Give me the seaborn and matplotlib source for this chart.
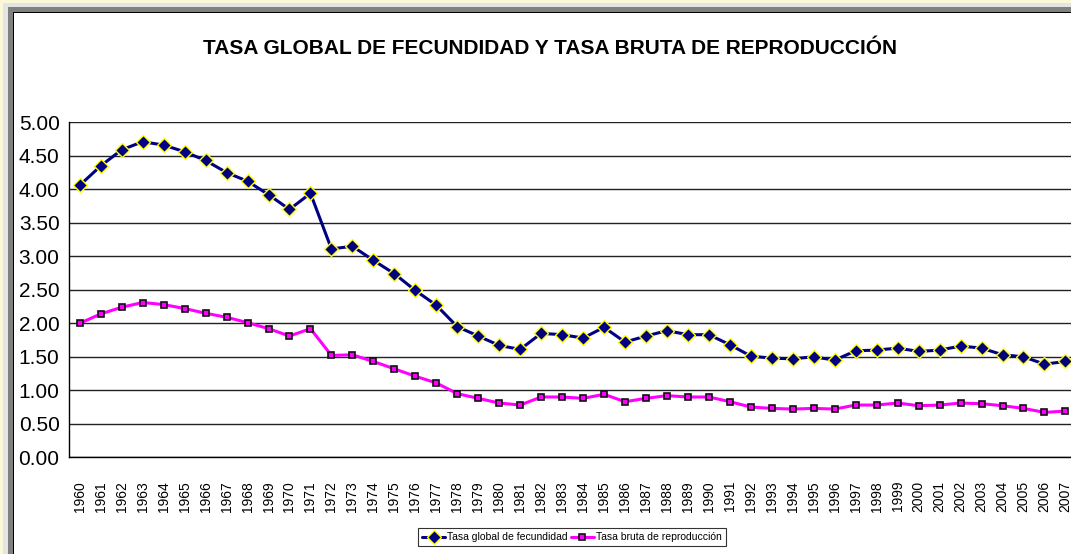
import matplotlib
matplotlib.use('Agg')
import matplotlib.pyplot as plt
from matplotlib.patches import Rectangle
import pandas as pd
import numpy as np
import seaborn as sns

sns.set_style('white')
plt.rcParams['font.family'] = ['Liberation Sans Narrow', 'Liberation Sans', 'DejaVu Sans']
plt.rcParams['text.color'] = 'black'
plt.rcParams['xtick.color'] = 'black'
plt.rcParams['ytick.color'] = 'black'

years = list(range(1960, 2008))
tgf = [4.06, 4.35, 4.59, 4.71, 4.66, 4.56, 4.43, 4.25, 4.12, 3.92,
       3.70, 3.94, 3.11, 3.15, 2.94, 2.74, 2.49, 2.27, 1.95, 1.81,
       1.67, 1.61, 1.85, 1.83, 1.78, 1.94, 1.72, 1.81, 1.89, 1.83,
       1.83, 1.68, 1.51, 1.48, 1.47, 1.50, 1.45, 1.59, 1.60, 1.63,
       1.58, 1.60, 1.66, 1.63, 1.53, 1.50, 1.39, 1.43]
tbr = [2.00, 2.14, 2.24, 2.31, 2.28, 2.22, 2.15, 2.09, 2.01, 1.92,
       1.81, 1.92, 1.52, 1.53, 1.43, 1.32, 1.21, 1.11, 0.95, 0.88,
       0.81, 0.78, 0.90, 0.90, 0.88, 0.94, 0.83, 0.88, 0.92, 0.90,
       0.90, 0.83, 0.75, 0.73, 0.72, 0.73, 0.72, 0.78, 0.78, 0.81,
       0.77, 0.78, 0.81, 0.80, 0.77, 0.73, 0.67, 0.69]
label_tgf = 'Tasa global de fecundidad'
label_tbr = 'Tasa bruta de reproducción'
title = 'TASA GLOBAL DE FECUNDIDAD Y TASA BRUTA DE REPRODUCCIÓN'

df = pd.DataFrame({'year': years, 'tgf': tgf, 'tbr': tbr})

W, H = 1071, 554
fig = plt.figure(figsize=(W / 100, H / 100), dpi=100)
fig.patch.set_facecolor('#fbf8d8')

# window frame
def px_rect(x0, y0, x1, y1, color):
    fig.patches.append(Rectangle((x0 / W, 1 - y1 / H), (x1 - x0) / W, (y1 - y0) / H,
                                 transform=fig.transFigure, facecolor=color,
                                 edgecolor='none', zorder=-10))

px_rect(3, 3, W + 5, H + 5, '#e4e4e4')
px_rect(8, 7, W + 5, H + 5, '#808080')
px_rect(13, 12, W + 5, H + 5, '#000000')
px_rect(14, 13, W + 5, H + 5, '#ffffff')

ax = fig.add_axes([69.3 / W, (H - 457.3) / H, 1006.6 / W, 335 / H])
ax.set_facecolor('white')

sns.lineplot(data=df, x='year', y='tgf', ax=ax, color='#000080', lw=2.2,
             marker='D', markersize=7, markerfacecolor='#000080',
             markeredgecolor='#ffff00', markeredgewidth=1.0, label=label_tgf,
             legend=False, zorder=4)
sns.lineplot(data=df, x='year', y='tbr', ax=ax, color='#ff00ff', lw=2.2,
             marker='s', markersize=5, markerfacecolor='#ff00ff',
             markeredgecolor='#111111', markeredgewidth=1.2, label=label_tbr,
             legend=False, zorder=3)

ax.set_xlim(years[0] - 0.5, years[-1] + 0.5)
ax.set_ylim(0, 5)
ax.set_yticks(np.arange(0, 5.01, 0.5))
ax.set_yticklabels([f'{v:.2f}' for v in np.arange(0, 5.01, 0.5)], fontsize=15)
ax.set_xticks(years)
ax.set_xticklabels([str(y) for y in years], rotation=90, fontsize=10)
ax.set_xticks(np.arange(years[0] - 0.5, years[-1] + 1), minor=True)
ax.tick_params(axis='x', which='major', length=0, pad=17)
ax.tick_params(axis='x', which='minor', length=5, width=0.8, color='black', direction='out')
ax.tick_params(axis='y', length=5, width=0.8, color='black', direction='out', pad=2)
ax.yaxis.grid(True, color='#222222', lw=1.0)
ax.set_axisbelow(True)
for s in ['top', 'right']:
    ax.spines[s].set_visible(False)
for s in ['left', 'bottom']:
    ax.spines[s].set_color('black')
    ax.spines[s].set_linewidth(1.0)
ax.set_xlabel('')
ax.set_ylabel('')

fig.text(550 / W, 1 - 48 / H, title, ha='center', va='center',
         fontsize=15, fontweight='heavy')

handles, labels = ax.get_legend_handles_labels()
leg = fig.legend(handles, labels, loc='upper center', bbox_to_anchor=(572 / W, 1 - 528 / H),
                 ncol=2, fontsize=7.5, frameon=True, fancybox=False, edgecolor='black',
                 handlelength=2.2, handletextpad=0.2, columnspacing=0.3,
                 borderpad=0.4, borderaxespad=0)
leg.get_frame().set_linewidth(0.8)

fig.savefig('out.png', dpi=100, facecolor=fig.get_facecolor())
